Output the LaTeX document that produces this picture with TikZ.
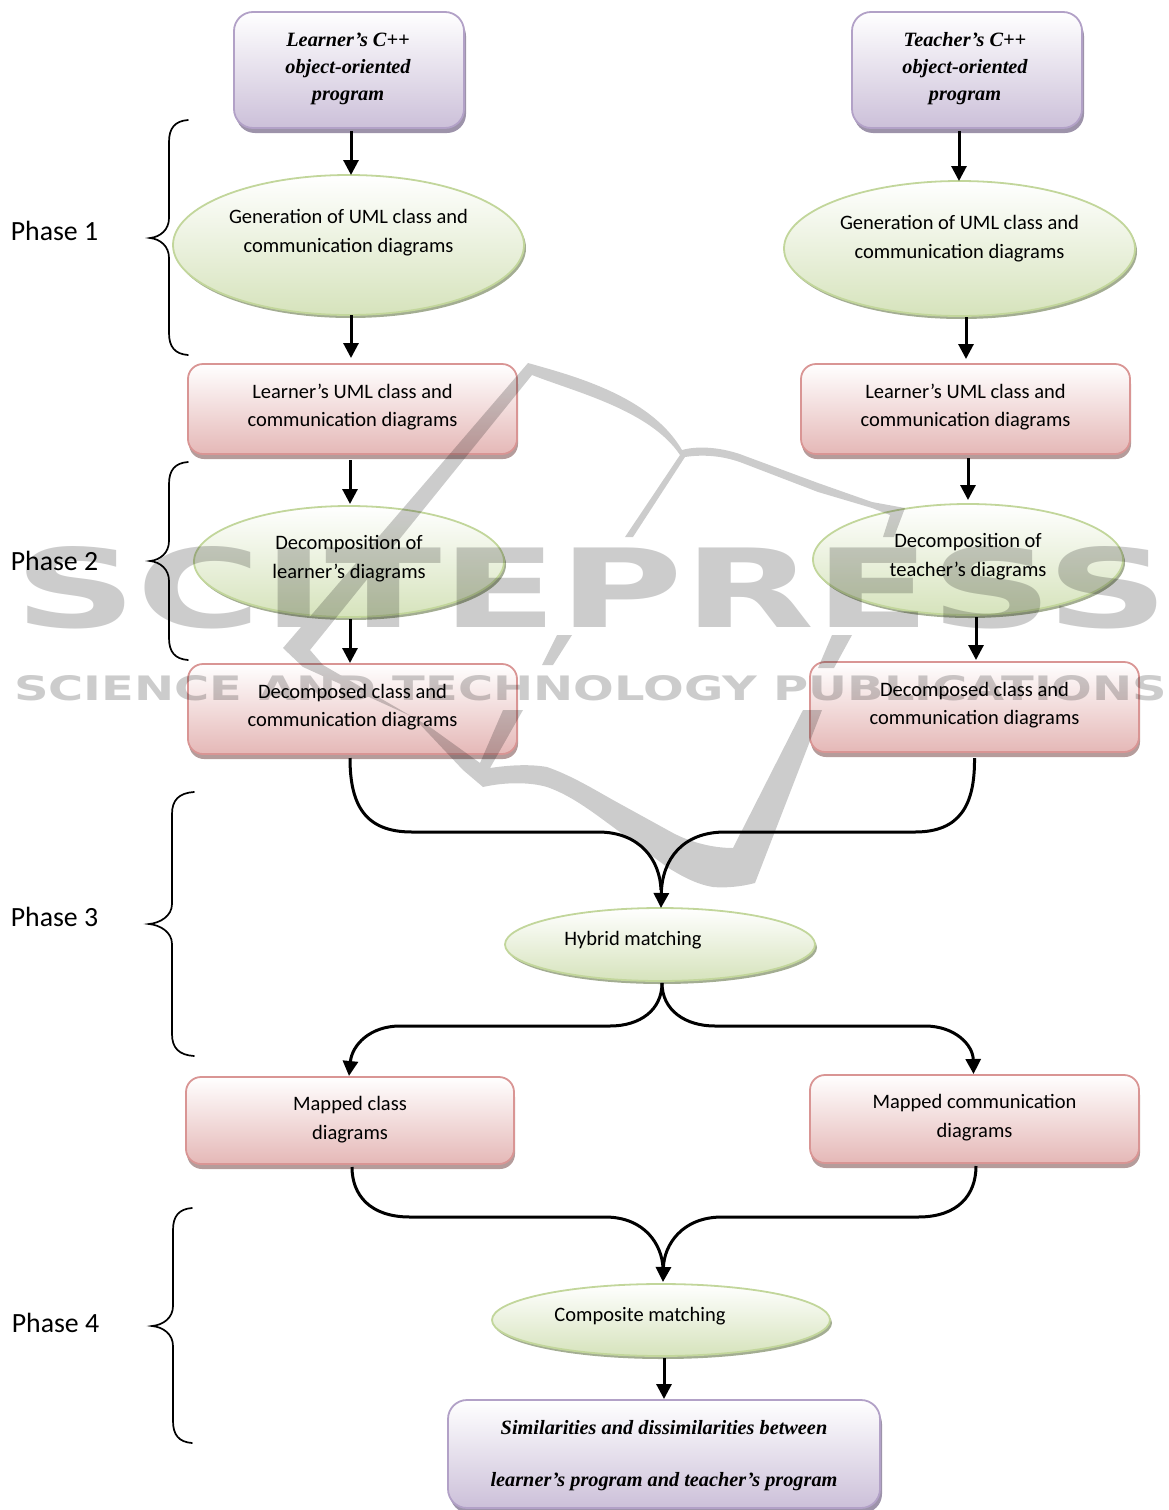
\documentclass[tikz,border=0pt]{standalone}
\usepackage{fontspec}
\setmainfont{Carlito}
\newfontfamily\timesbi[BoldItalicFont={Liberation Serif Bold Italic}]{Liberation Serif}
\newfontfamily\wmfont{DejaVu Sans}
\usetikzlibrary{shapes.geometric,shadows,arrows.meta,calc}
\newcommand{\calib}{\fontsize{20.5}{28}\selectfont}
\newcommand{\calibw}{\fontsize{20.5}{29}\selectfont}
\newcommand{\timbi}{\timesbi\bfseries\itshape\fontsize{20.3}{27}\selectfont}
\newcommand{\timbiw}{\timesbi\bfseries\itshape\fontsize{20.3}{52}\selectfont}
% body text: x shift, y shift, font, lines
\newcommand{\placed}[4]{\raisebox{\dimexpr#2pt-6pt\relax}[0pt][0pt]{\makebox[0pt]{\hspace*{\dimexpr#1pt*2\relax}#3\begin{tabular}{@{}c@{}}#4\end{tabular}}}}
\tikzset{
  x=1pt,y=-1pt,
  base/.style={inner sep=0pt,outer sep=0pt,line width=1.8pt,text=black},
  purplebox/.style={base,rectangle,rounded corners=19pt,draw=purpleedge,top color=white,bottom color=purplefill,
     drop shadow={shadow xshift=2pt,shadow yshift=-5pt,fill=purpleshadow,opacity=1}},
  redbox/.style={base,rectangle,rounded corners=15pt,draw=rededge,top color=white,bottom color=redfill,
     minimum width=329pt,minimum height=90pt,
     drop shadow={shadow xshift=1pt,shadow yshift=-5pt,fill=redshadow,opacity=1}},
  greenell/.style={base,ellipse,draw=greenedge,top color=white,bottom color=greenfill,
     drop shadow={shadow xshift=2pt,shadow yshift=-3pt,fill=greenshadow,opacity=1}},
  flow/.style={line width=3pt,-{Triangle[width=15pt,length=15pt]}},
  flowline/.style={line width=3pt},
  bracket/.style={line width=1.7pt,black,line cap=round},
  phase/.style={inner sep=0pt,font=\fontsize{27.8}{32}\selectfont},
}
\definecolor{purpleedge}{HTML}{B2A1C7}
\definecolor{purplefill}{HTML}{CCC0D9}
\definecolor{purpleshadow}{HTML}{9D93AA}
\definecolor{rededge}{HTML}{D99594}
\definecolor{redfill}{HTML}{E5B8B7}
\definecolor{redshadow}{HTML}{B59C9B}
\definecolor{greenedge}{HTML}{C2D69B}
\definecolor{greenfill}{HTML}{D6E3BC}
\definecolor{greenshadow}{HTML}{A3AD92}
\begin{document}
\begin{tikzpicture}
\useasboundingbox (0,0) rectangle (1169,1510);
\clip (0,0) rectangle (1169,1510);

% program boxes
\node[purplebox,minimum width=230pt,minimum height=116pt] (pl) at (349,70) {\placed{-1}{3}{\timbi}{Learner’s C++\\object-oriented\\program}};
\node[purplebox,minimum width=230pt,minimum height=116pt] (pt) at (967,70) {\placed{-2}{3}{\timbi}{Teacher’s C++\\object-oriented\\program}};

% phase 1
\node[greenell,minimum width=351pt,minimum height=140pt] (gl) at (348.5,245) {\placed{0}{13.5}{\calibw}{Generation of UML class and\\communication diagrams}};
\node[greenell,minimum width=351pt,minimum height=135pt] (gt) at (959.5,248.5) {\placed{0}{11}{\calibw}{Generation of UML class and\\communication diagrams}};
\node[redbox] (ul) at (352.5,409) {\placed{0}{3}{\calib}{Learner’s UML class and\\communication diagrams}};
\node[redbox] (ut) at (965.5,409) {\placed{0}{3}{\calib}{Learner’s UML class and\\communication diagrams}};

% phase 2
\node[greenell,minimum width=310pt,minimum height=111pt] (dl) at (349,561.5) {\placed{0}{4}{\calibw}{Decomposition of\\learner’s diagrams}};
\node[greenell,minimum width=310pt,minimum height=111pt] (dt) at (968,559.5) {\placed{0}{4}{\calibw}{Decomposition of\\teacher’s diagrams}};
\node[redbox] (cl) at (352.5,709) {\placed{0}{3}{\calib}{Decomposed class and\\communication diagrams}};
\node[redbox] (ct) at (974.5,707) {\placed{0}{3}{\calib}{Decomposed class and\\communication diagrams}};

% phase 3
\node[greenell,minimum width=310pt,minimum height=73pt] (hm) at (660,944.5) {\placed{-27}{5}{\calib}{Hybrid matching}};
\node[redbox,minimum width=328pt,minimum height=87pt] (ml) at (350,1120.5) {\placed{0}{2}{\calibw}{Mapped class\\diagrams}};
\node[redbox,minimum width=329pt,minimum height=88pt] (mt) at (974.5,1119) {\placed{0}{2.5}{\calibw}{Mapped communication\\diagrams}};

% phase 4
\node[greenell,minimum width=338pt,minimum height=72pt] (cm) at (661,1320) {\placed{-21}{5}{\calib}{Composite matching}};
\node[purplebox,minimum width=432pt,minimum height=108pt] (res) at (664,1454) {\placed{0}{5}{\timbiw}{Similarities and dissimilarities between\\learner’s program and teacher’s program}};

% straight connectors
\draw[flow] ([xshift=2pt,yshift=-3pt]pl.south) -- ([xshift=2.5pt]gl.north);
\draw[flow] ([xshift=-8pt,yshift=-3pt]pt.south) -- ([xshift=-0.5pt]gt.north);
\draw[flow] ([xshift=2.5pt]gl.south) -- (351,358);
\draw[flow] ([xshift=6.5pt,yshift=-1pt]gt.south) -- (966,359);
\draw[flow] ([xshift=-2.5pt,yshift=-6pt]ul.south) -- ([xshift=1pt,yshift=2pt]dl.north);
\draw[flow] ([xshift=2.5pt,yshift=-4pt]ut.south) -- ([yshift=4pt]dt.north);
\draw[flow] ([xshift=1pt,yshift=-2pt]dl.south) -- ([xshift=-2.5pt,yshift=1pt]cl.north);
\draw[flow] ([xshift=8pt,yshift=-2pt]dt.south) -- ([xshift=1.5pt,yshift=2pt]ct.north);
\draw[flow] ([xshift=3pt,yshift=-2pt]cm.south) -- ([yshift=1pt]res.north);

% merging connectors
\draw[flowline] ([xshift=-2.5pt,yshift=-4pt]cl.south) .. controls (350,805) and (365,832) .. (412,832) -- (598,832) .. controls (640,832) and (660,860) .. (661,890);
\draw[flow] ([yshift=-6pt]ct.south) .. controls (975,805) and (960,832) .. (915,832) -- (725,832) .. controls (682,832) and (662,860) .. ([xshift=1pt]hm.north);
\draw[flow] ([xshift=2pt,yshift=-2pt]hm.south) .. controls (662,1010) and (640,1026) .. (610,1026) -- (400,1026) .. controls (370,1026) and (352,1045) .. ([xshift=-1pt,yshift=1pt]ml.north);
\draw[flow] ([xshift=2pt,yshift=-2pt]hm.south) .. controls (662,1010) and (685,1026) .. (715,1026) -- (925,1026) .. controls (955,1026) and (973,1045) .. ([xshift=-1pt,yshift=1pt]mt.north);
\draw[flowline] ([xshift=2pt,yshift=-3pt]ml.south) .. controls (352,1195) and (370,1217) .. (410,1217) -- (605,1217) .. controls (645,1217) and (662,1245) .. (663,1268);
\draw[flow] ([xshift=1.5pt,yshift=-3pt]mt.south) .. controls (976,1195) and (958,1217) .. (918,1217) -- (722,1217) .. controls (682,1217) and (664,1245) .. ([xshift=2pt,yshift=2pt]cm.north);

% braces
\draw[bracket] (188,120) .. controls (175,121) and (169,128) .. (169,142) -- (169,218) .. controls (169,230) and (160,237) .. (150,238) .. controls (160,239) and (169,246) .. (169,258) -- (169,333) .. controls (169,347) and (175,354) .. (188,355);
\draw[bracket] (188,462) .. controls (175,463) and (169,470) .. (169,484) -- (169,541) .. controls (169,553) and (160,560) .. (150,561) .. controls (160,562) and (169,569) .. (169,581) -- (169,638) .. controls (169,652) and (175,659) .. (188,660);
\draw[bracket] (194,792) .. controls (179,793) and (172,800) .. (172,814) -- (172,904) .. controls (172,916) and (160,923) .. (149,924) .. controls (160,925) and (172,932) .. (172,944) -- (172,1034) .. controls (172,1048) and (179,1055) .. (194,1056);
\draw[bracket] (192,1208) .. controls (179,1209) and (173,1216) .. (173,1230) -- (173,1306) .. controls (173,1318) and (163,1325) .. (152,1326) .. controls (163,1327) and (173,1334) .. (173,1346) -- (173,1421) .. controls (173,1435) and (179,1442) .. (192,1443);

\node[phase] (p1) at (54.5,231) {Phase 1};
\node[phase] (p2) at (54.5,561) {Phase 2};
\node[phase] (p3) at (54.5,917) {Phase 3};
\node[phase] (p4) at (55.5,1323) {Phase 4};

% publisher watermark, laid over the drawing
\begin{scope}[transparency group,opacity=.2]
  % leaf outline and left stroke
  \fill[black] (528,363) .. controls (570,375) and (650,395) .. (682,450)
     .. controls (700,445) and (725,448) .. (745,456) -- (818,483) -- (872,502) -- (905,508) -- (894,537) -- (883,537) -- (890,515)
     -- (872,508) -- (818,492) -- (745,464) .. controls (725,456) and (705,454) .. (685,457)
     -- (633,537) -- (625,537) -- (680,455)
     .. controls (650,410) and (575,392) .. (532,375)
     -- (310,650) -- (323,665) -- (430,727) -- (480,763) -- (503,710) -- (523,710) -- (490,768)
     .. controls (510,765) and (530,764) .. (547,767) .. controls (570,775) and (590,787) .. (613,800)
     -- (673,833) .. controls (690,842) and (712,848) .. (733,848) -- (803,710) -- (822,710) -- (755,883)
     .. controls (740,887) and (725,888) .. (713,887) .. controls (695,884) and (680,875) .. (667,867)
     -- (613,827) .. controls (590,810) and (570,795) .. (547,787) .. controls (530,782) and (505,782) .. (483,787)
     -- (463,770) -- (413,717) -- (303,667) -- (283,648) -- cycle;
  % short strokes
  \fill[black] (832,635) -- (852,635) -- (834,668) -- (818,668) -- cycle;
  \fill[black] (557,635) -- (572,635) -- (553,665) -- (542,665) -- cycle;
  \fill[black] (580,608) -- (589,608) -- (581,621) -- cycle;
  \node[inner sep=0pt,anchor=west] (wm1) at (14,587.5) {\resizebox{1153pt}{81pt}{\wmfont\bfseries SCITEPRESS}};
  \node[inner sep=0pt,anchor=west] (wm2) at (14,688.5) {\resizebox{1153pt}{25pt}{\wmfont\bfseries SCIENCE AND TECHNOLOGY PUBLICATIONS}};
\end{scope}
\end{tikzpicture}
\end{document}
